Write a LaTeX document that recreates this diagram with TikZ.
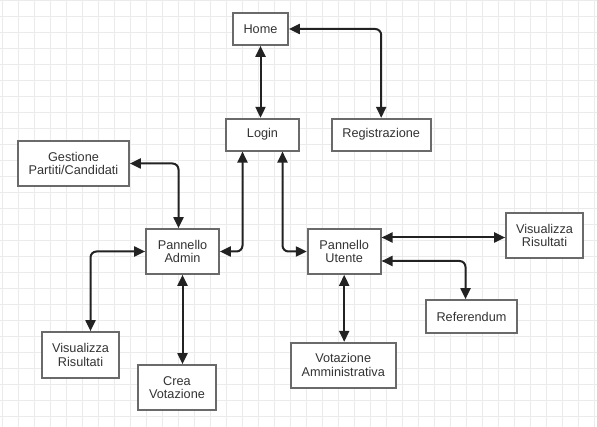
\documentclass[tikz,border=0pt]{standalone}
\usepackage{fontspec}
\setmainfont{Liberation Sans}
\usetikzlibrary{arrows.meta,positioning}

\definecolor{gridgray}{HTML}{EBEBEB}
\definecolor{boxgray}{HTML}{6A6A6A}
\definecolor{linkgray}{HTML}{222222}
\definecolor{textgray}{HTML}{333333}

\tikzset{
	box/.style={draw=boxgray, line width=1.7pt, fill=white, align=center, inner sep=0pt,
		text=textgray, font=\fontsize{12.7}{13.5}\selectfont},
	link/.style={draw=linkgray, line width=2pt, rounded corners=6pt,
		{Triangle[length=11pt,width=10pt]}-{Triangle[length=11pt,width=10pt]}},
	gridline/.style={draw=gridgray, line width=0.8pt}
}

\begin{document}
\begin{tikzpicture}[x=1pt, y=-1pt]
	\useasboundingbox[fill=white] (0,0) rectangle (597,427);
	\foreach \i in {0,...,37}
		\draw[gridline] ({2.3+16*\i},0) -- ({2.3+16*\i},427);
	\foreach \j in {0,...,26}
		\draw[gridline] (0,{16*\j}) -- (597,{16*\j});

	\node[box, minimum width=55pt, minimum height=32pt] (home) at (260.5,29) {Home};
	\node[box, minimum width=73pt, minimum height=32pt, below=72pt of home, xshift=2pt] (login) {Login};
	\node[box, minimum width=99pt, minimum height=32pt, right=31pt of login] (reg) {Registrazione};

	\node[box, minimum width=111pt, minimum height=45pt] (gest) at (73.5,163.5) {Gestione\\Partiti/Candidati};
	\node[box, minimum width=73pt, minimum height=45pt] (admin) at (182.5,251.5) {Pannello\\Admin};
	\node[box, minimum width=73pt, minimum height=45pt, right=87pt of admin] (utente) {Pannello\\Utente};

	\node[box, minimum width=77pt, minimum height=46pt] (visl) at (80.5,355) {Visualizza\\Risultati};
	\node[box, minimum width=78pt, minimum height=45pt] (crea) at (177,387.5) {Crea\\Votazione};

	\node[box, minimum width=77pt, minimum height=45pt] (visr) at (544.5,235.5) {Visualizza\\Risultati};
	\node[box, minimum width=91pt, minimum height=33pt] (ref) at (471.5,316.5) {Referendum};
	\node[box, minimum width=105pt, minimum height=45pt, below=67pt of utente, xshift=-1pt] (vot) {Votazione\\Amministrativa};

	\draw[link] (home.south) -- (home.south |- login.north);
	\draw[link] (home.east) -| (reg.north);
	\draw[link] (gest.east) -| ([xshift=-4pt]admin.north);
	\draw[link] (admin.east) -| ([xshift=-20pt]login.south);
	\draw[link] ([xshift=20pt]login.south) |- (utente.west);
	\draw[link] (admin.west) -| ([xshift=10pt]visl.north);
	\draw[link] (admin.south) -- (admin.south |- crea.north);
	\draw[link] ([yshift=14pt]utente.east) -- ([yshift=14pt]utente.east -| visr.west);
	\draw[link] ([yshift=-9.5pt]utente.east) -| ([xshift=-6pt]ref.north);
	\draw[link] (utente.south) -- (utente.south |- vot.north);
\end{tikzpicture}
\end{document}
